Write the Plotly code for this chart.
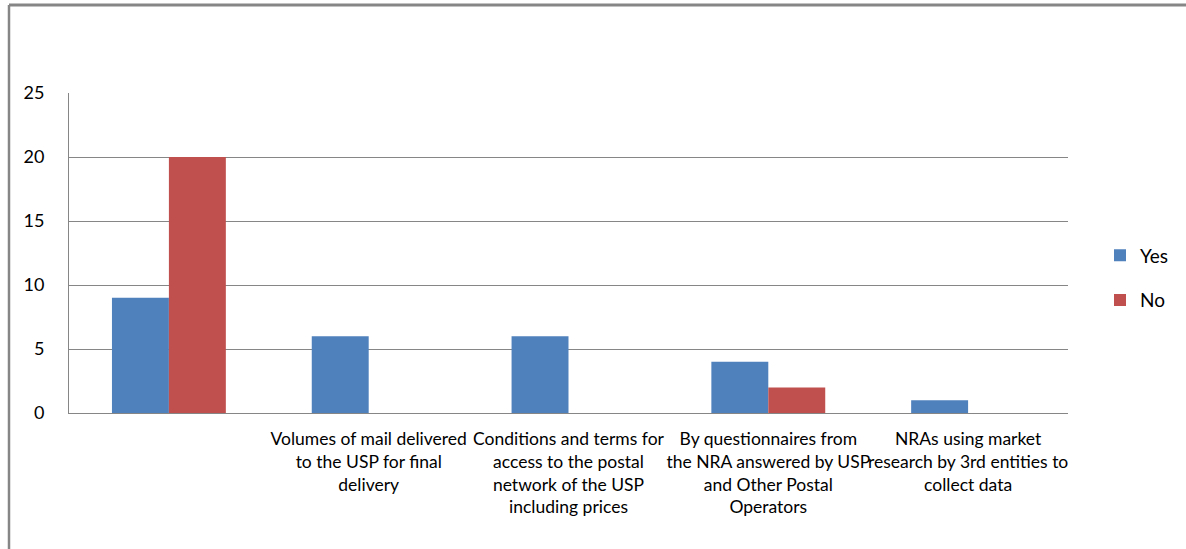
import plotly.graph_objects as go

categories = [
    " ",
    "Volumes of mail delivered<br>to the USP for final<br>delivery",
    "Conditions and terms for<br>access to the postal<br>network of the USP<br>including prices",
    "By questionnaires from<br>the NRA answered by USP<br>and Other Postal<br>Operators",
    "NRAs using market<br>research by 3rd entities to<br>collect data",
]
yes_values = [9, 6, 6, 4, 1]
no_values = [20, 0, 0, 2, 0]
y_ticks = [0, 5, 10, 15, 20, 25]

W, H = 1186, 549
ML, MR, MT, MB = 69, 118, 93, 136
pw, ph = W - ML - MR, H - MT - MB

def px_x(x):
    return (x - ML) / pw

def px_y(y):
    return (H - MB - y) / ph

FONT = "Lato, Open Sans, sans-serif"
GRID = "#868686"

fig = go.Figure()
fig.add_trace(go.Bar(x=categories, y=yes_values, name="Yes",
                     marker=dict(color="#4F81BD", line=dict(width=0)),
                     legendgroup="yes"))
fig.add_trace(go.Bar(x=categories, y=no_values, name="No",
                     marker=dict(color="#C0504D", line=dict(width=0)),
                     legendgroup="no"))

# outer chart frame (top and left edges)
fig.add_shape(type="line", xref="paper", yref="paper",
              x0=px_x(9), x1=px_x(1190), y0=px_y(5), y1=px_y(5),
              line=dict(color=GRID, width=3), layer="above")
fig.add_shape(type="line", xref="paper", yref="paper",
              x0=px_x(9), x1=px_x(9), y0=px_y(5), y1=px_y(552),
              line=dict(color=GRID, width=2.5), layer="above")

fig.update_layout(
    width=W, height=H,
    margin=dict(l=ML, r=MR, t=MT, b=MB, autoexpand=False),
    paper_bgcolor="white", plot_bgcolor="white",
    barmode="group", bargap=0.43, bargroupgap=0,
    font=dict(family=FONT, color="#000000"),
    showlegend=True,
    legend=dict(x=px_x(1100), y=px_y(278), xanchor="left", yanchor="middle",
                font=dict(size=19, family=FONT, color="#000000"),
                tracegroupgap=17, itemwidth=30, bgcolor="rgba(0,0,0,0)"),
    xaxis=dict(type="category", showline=True, linecolor=GRID, linewidth=1,
               ticks="", tickfont=dict(size=17.5, family=FONT, color="#000000"),
               tickangle=0, showgrid=False, ticklabelstandoff=10),
    yaxis=dict(range=[0, 25], tickvals=y_ticks, showline=True, linecolor=GRID,
               linewidth=1, gridcolor=GRID, gridwidth=1, zeroline=False,
               ticks="", ticklabelstandoff=20,
               tickfont=dict(size=18, family=FONT, color="#000000")),
)

fig.write_html("out.html")
